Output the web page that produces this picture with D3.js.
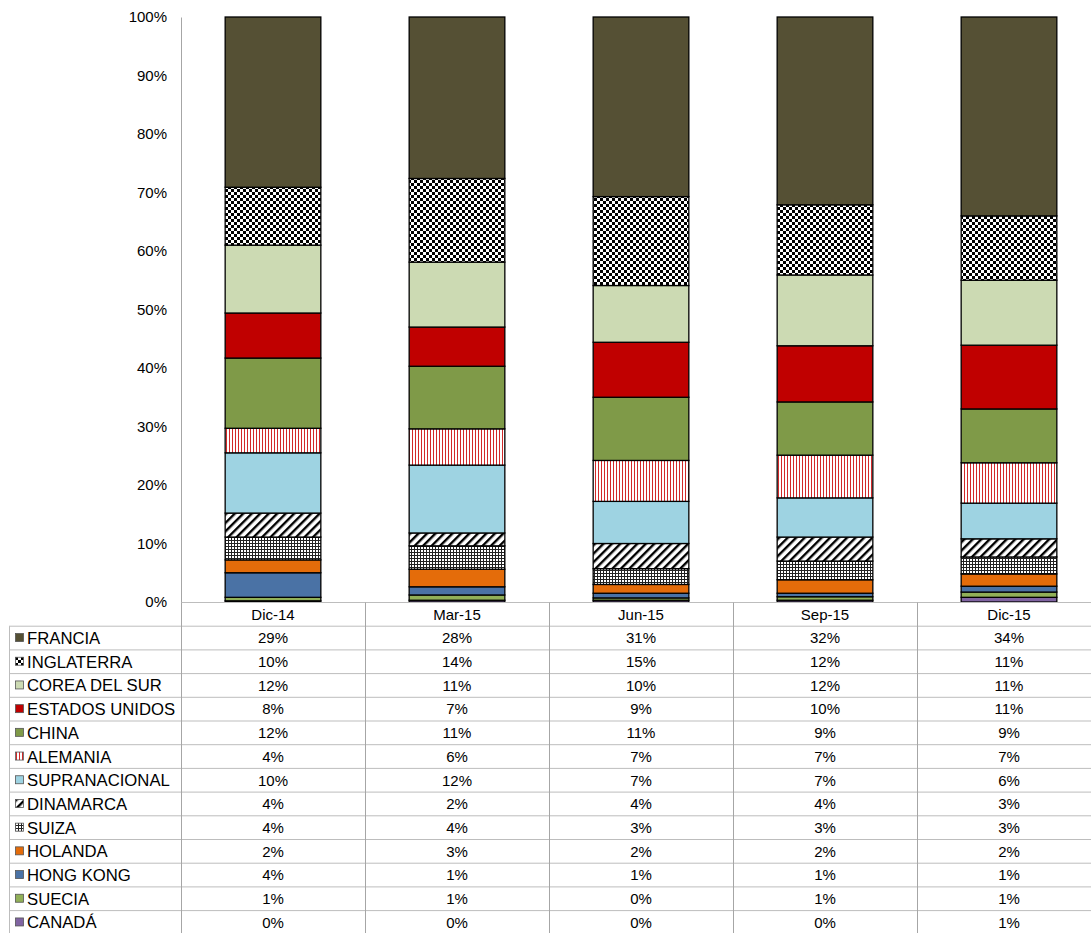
<!DOCTYPE html>
<html>
<head>
<meta charset="utf-8">
<script src="https://cdn.jsdelivr.net/npm/d3@7"></script>
<style>
  body { margin: 0; background: #fff; }
  svg { display: block; font-family: "Liberation Sans", Arial, sans-serif; }
</style>
</head>
<body>
<div id="chart"></div>
<script>
// periods (table columns)
var periods = ["Dic-14", "Mar-15", "Jun-15", "Sep-15", "Dic-15"];

// share of each country per period, in percent
var francia       = [29.1, 27.6, 30.7, 32.1, 34.0];
var inglaterra    = [ 9.9, 14.3, 15.2, 12.0, 11.0];
var coreaDelSur   = [11.6, 11.1,  9.7, 12.1, 11.1];
var estadosUnidos = [ 7.7,  6.7,  9.4,  9.6, 10.9];
var china         = [12.0, 10.7, 10.8,  9.1,  9.2];
var alemania      = [ 4.2,  6.2,  7.0,  7.3,  6.9];
var supranacional = [10.3, 11.6,  7.2,  6.7,  6.1];
var dinamarca     = [ 4.1,  2.2,  4.3,  4.1,  3.1];
var suiza         = [ 3.9,  4.0,  2.7,  3.2,  2.9];
var holanda       = [ 2.2,  3.0,  1.5,  2.3,  2.1];
var hongKong      = [ 4.2,  1.4,  0.8,  0.6,  1.0];
var suecia        = [ 0.6,  0.9,  0.4,  0.6,  0.9];
var canada        = [ 0.2,  0.3,  0.3,  0.3,  0.8];

// table order (top to bottom); stacking goes the other way
var countries = ["FRANCIA", "INGLATERRA", "COREA DEL SUR", "ESTADOS UNIDOS", "CHINA", "ALEMANIA",
  "SUPRANACIONAL", "DINAMARCA", "SUIZA", "HOLANDA", "HONG KONG", "SUECIA", "CANADÁ"];
var countryValues = [francia, inglaterra, coreaDelSur, estadosUnidos, china, alemania,
  supranacional, dinamarca, suiza, holanda, hongKong, suecia, canada];

var yTicks = [0, 10, 20, 30, 40, 50, 60, 70, 80, 90, 100];

var fills = {
  "FRANCIA": "#555034",
  "INGLATERRA": "url(#checker)",
  "COREA DEL SUR": "#ccdab3",
  "ESTADOS UNIDOS": "#c00000",
  "CHINA": "#7f9a48",
  "ALEMANIA": "url(#vstripe)",
  "SUPRANACIONAL": "#9ed3e2",
  "DINAMARCA": "url(#diag)",
  "SUIZA": "url(#grid)",
  "HOLANDA": "#e46c0a",
  "HONG KONG": "#4a72a5",
  "SUECIA": "#91b058",
  "CANADÁ": "#8064a2"
};

var width = 1091, height = 933;
var plot = {left: 181, right: 1101, top: 17, bottom: 602};
var rowH = 23.7, headerTop = 602.5, legendLeft = 9;

var svg = d3.select("#chart").append("svg")
  .attr("width", width)
  .attr("height", height);

// patterns for the hatched series
var defs = svg.append("defs");

var checker = defs.append("pattern").attr("id", "checker")
  .attr("width", 6).attr("height", 6).attr("patternUnits", "userSpaceOnUse");
checker.append("rect").attr("width", 6).attr("height", 6).attr("fill", "#fff");
checker.append("rect").attr("width", 3).attr("height", 3).attr("fill", "#000");
checker.append("rect").attr("x", 3).attr("y", 3).attr("width", 3).attr("height", 3).attr("fill", "#000");

var vstripe = defs.append("pattern").attr("id", "vstripe")
  .attr("width", 3).attr("height", 3).attr("patternUnits", "userSpaceOnUse");
vstripe.append("rect").attr("width", 3).attr("height", 3).attr("fill", "#fff");
vstripe.append("rect").attr("x", 1).attr("width", 1).attr("height", 3).attr("fill", "#d22a2a");

var diag = defs.append("pattern").attr("id", "diag")
  .attr("width", 6).attr("height", 6).attr("patternUnits", "userSpaceOnUse")
  .attr("patternTransform", "rotate(45)");
diag.append("rect").attr("width", 6).attr("height", 6).attr("fill", "#fff");
diag.append("rect").attr("width", 2.4).attr("height", 6).attr("fill", "#000");

var grid = defs.append("pattern").attr("id", "grid")
  .attr("width", 3).attr("height", 3).attr("patternUnits", "userSpaceOnUse");
grid.append("rect").attr("width", 3).attr("height", 3).attr("fill", "#fff");
grid.append("rect").attr("width", 3).attr("height", 1).attr("fill", "#222");
grid.append("rect").attr("width", 1).attr("height", 3).attr("fill", "#222");

// scales
var x = d3.scaleBand().domain(periods).range([plot.left, plot.right]);
var y = d3.scaleLinear().domain([0, 100]).range([plot.bottom, plot.top]);
var barW = x.bandwidth() * 0.52;

// stack data
var rows = periods.map(function(p, i) {
  var r = {period: p};
  countries.forEach(function(c, j) { r[c] = countryValues[j][i]; });
  return r;
});
var stackKeys = countries.slice().reverse();
var series = d3.stack().keys(stackKeys)(rows);

// y axis
var yAxis = d3.axisLeft(y).tickValues(yTicks).tickSize(0).tickPadding(14)
  .tickFormat(function(d) { return d + "%"; });
var yg = svg.append("g")
  .attr("transform", "translate(" + plot.left + ",0)")
  .call(yAxis);
yg.select(".domain").attr("stroke", "#a6a6a6");
yg.selectAll("text").attr("font-size", 15).attr("fill", "#000")
  .attr("font-family", "Liberation Sans, Arial, sans-serif");

// bars
svg.append("g").selectAll("g")
  .data(series)
  .enter().append("g")
  .attr("fill", function(s) { return fills[s.key]; })
  .selectAll("rect")
  .data(function(s) { return s; })
  .enter().append("rect")
  .attr("x", function(d) { return x(d.data.period) + (x.bandwidth() - barW) / 2; })
  .attr("width", barW)
  .attr("y", function(d) { return y(d[1]); })
  .attr("height", function(d) { return y(d[0]) - y(d[1]); })
  .attr("stroke", "#000")
  .attr("stroke-width", 1.3);

// data table
var table = svg.append("g");
var lineCol = "#bdbdbd";
var tableBottom = headerTop + rowH * (countries.length + 1);

// horizontal lines
table.append("line")
  .attr("x1", plot.left).attr("x2", width)
  .attr("y1", headerTop).attr("y2", headerTop)
  .attr("stroke", lineCol);
d3.range(1, countries.length + 1).forEach(function(i) {
  table.append("line")
    .attr("x1", legendLeft).attr("x2", width)
    .attr("y1", headerTop + rowH * i).attr("y2", headerTop + rowH * i)
    .attr("stroke", lineCol);
});
// vertical lines
table.append("line")
  .attr("x1", legendLeft + 0.5).attr("x2", legendLeft + 0.5)
  .attr("y1", headerTop + rowH).attr("y2", tableBottom)
  .attr("stroke", lineCol);
periods.forEach(function(p) {
  table.append("line")
    .attr("x1", x(p) + 0.5).attr("x2", x(p) + 0.5)
    .attr("y1", headerTop).attr("y2", tableBottom)
    .attr("stroke", "#a6a6a6");
});

// header labels
table.selectAll(".hdr")
  .data(periods)
  .enter().append("text")
  .attr("class", "hdr")
  .attr("x", function(p) { return x(p) + x.bandwidth() / 2; })
  .attr("y", headerTop + rowH / 2)
  .attr("dy", "0.35em")
  .attr("text-anchor", "middle")
  .attr("font-size", 15)
  .text(function(p) { return p; });

// one row per country
countries.forEach(function(c, j) {
  var cy = headerTop + rowH * (j + 1) + rowH / 2;
  table.append("rect")
    .attr("x", 15.5).attr("y", cy - 4.5)
    .attr("width", 8).attr("height", 8)
    .attr("fill", fills[c])
    .attr("stroke", "#555")
    .attr("stroke-width", 0.8);
  table.append("text")
    .attr("x", 27).attr("y", cy)
    .attr("dy", "0.36em")
    .attr("font-size", 16.7)
    .text(c);
  periods.forEach(function(p, i) {
    table.append("text")
      .attr("x", x(p) + x.bandwidth() / 2)
      .attr("y", cy)
      .attr("dy", "0.35em")
      .attr("text-anchor", "middle")
      .attr("font-size", 15)
      .text(Math.round(countryValues[j][i]) + "%");
  });
});
</script>
</body>
</html>
